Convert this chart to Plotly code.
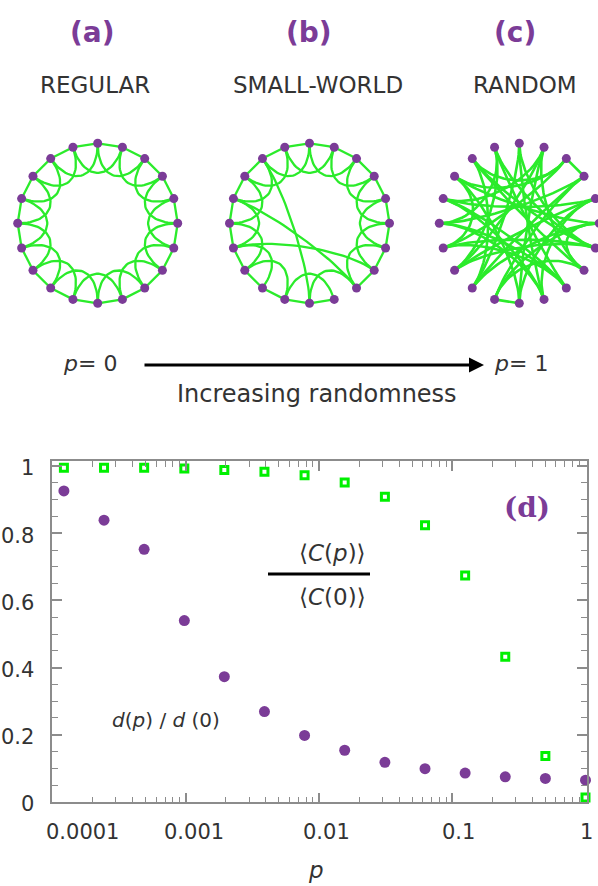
import numpy as np
import plotly.graph_objects as go

W, H = 598, 886
TOP_H = 440  # pixel height of the network strip at the top

# ---------------- rewiring sweep (panel d) ----------------
p_values = [0.000122, 0.000244, 0.000488, 0.000977, 0.00195, 0.0039, 0.0078,
            0.0156, 0.03125, 0.0625, 0.125, 0.25, 0.5, 1.0]
path_length_ratio = [0.926, 0.839, 0.752, 0.540, 0.373, 0.269, 0.198,
                     0.154, 0.118, 0.099, 0.086, 0.075, 0.070, 0.065]
clustering_ratio = [0.995, 0.995, 0.995, 0.993, 0.988, 0.983, 0.973,
                    0.951, 0.909, 0.824, 0.674, 0.432, 0.137, 0.013]

x_tick_vals = [0.0001, 0.001, 0.01, 0.1, 1]
x_tick_text = ["0.0001", "0.001", "0.01", "0.1", "1"]
y_tick_vals = [0, 0.2, 0.4, 0.6, 0.8, 1]
y_tick_text = ["0", "0.2", "0.4", "0.6", "0.8", "1"]

# ---------------- networks (panels a-c) ----------------
n_nodes = 20
regular_edges = [(0, 1), (1, 2), (2, 3), (3, 4), (4, 5), (5, 6), (6, 7), (7, 8), (8, 9), (9, 10),
                 (10, 11), (11, 12), (12, 13), (13, 14), (14, 15), (15, 16), (16, 17), (17, 18),
                 (18, 19), (19, 0),
                 (0, 2), (1, 3), (2, 4), (3, 5), (4, 6), (5, 7), (6, 8), (7, 9), (8, 10), (9, 11),
                 (10, 12), (11, 13), (12, 14), (13, 15), (14, 16), (15, 17), (16, 18), (17, 19),
                 (18, 0), (19, 1)]
small_world_edges = [(0, 1), (1, 2), (2, 3), (3, 4), (4, 5), (5, 6), (6, 7), (7, 8), (8, 16), (9, 10),
                     (10, 11), (11, 12), (12, 13), (13, 14), (14, 15), (15, 16), (16, 17), (17, 18),
                     (18, 19), (19, 0),
                     (0, 2), (1, 3), (2, 4), (3, 5), (4, 6), (5, 7), (6, 8), (7, 14), (8, 10), (9, 11),
                     (10, 18), (11, 13), (12, 14), (13, 15), (14, 16), (15, 17), (16, 18), (17, 19),
                     (18, 0), (19, 1)]
random_edges = [(0, 9), (0, 12), (0, 6), (1, 10), (1, 13), (1, 16), (2, 3), (2, 14), (2, 17), (3, 12),
                (3, 15), (4, 16), (4, 13), (4, 10), (5, 7), (5, 11), (5, 17), (6, 14), (6, 18), (7, 18),
                (7, 11), (8, 16), (8, 19), (8, 14), (15, 19), (9, 15), (10, 11), (3, 11), (5, 12), (6, 13),
                (13, 19), (4, 9), (8, 15), (9, 16), (14, 17), (12, 18), (2, 18), (6, 19), (1, 7), (10, 17)]
panel_tags = ["(a)", "(b)", "(c)"]
panel_names = ["REGULAR", "SMALL-WORLD", "RANDOM"]

PURPLE = "#7B3C97"
GREEN_EDGE = "#2BEB2B"
GREEN_MARK = "#00F000"
AXIS_GREY = "#8C8C8C"
TEXT = "#333333"

centers = [(97.7, 223.3), (309.5, 223.3), (519.3, 223.3)]
R = 80.0


def node_xy(cx, cy, k):
    th = 2 * np.pi * k / n_nodes
    return np.array([cx + R * np.sin(th), cy - R * np.cos(th)])


def edge_curve(cx, cy, i, j, pull=0.45):
    d = (j - i) % n_nodes
    if min(d, n_nodes - d) == 1:
        pull = 0.0
    p0, p3 = node_xy(cx, cy, i), node_xy(cx, cy, j)
    c = np.array([cx, cy])
    c1 = p0 + pull * (c - p0)
    c2 = p3 + pull * (c - p3)
    t = np.linspace(0, 1, 32)[:, None]
    b = (1 - t) ** 3 * p0 + 3 * (1 - t) ** 2 * t * c1 + 3 * (1 - t) * t ** 2 * c2 + t ** 3 * p3
    return b[:, 0], b[:, 1]


fig = go.Figure()

for (cx, cy), edges, lw in zip(centers, [regular_edges, small_world_edges, random_edges], [2.3, 2.3, 2.6]):
    ex, ey = [], []
    for i, j in edges:
        xs, ys = edge_curve(cx, cy, i, j)
        ex += list(xs) + [None]
        ey += list(ys) + [None]
    fig.add_trace(go.Scatter(x=ex, y=ey, mode="lines", xaxis="x2", yaxis="y2",
                             line=dict(color=GREEN_EDGE, width=lw), hoverinfo="skip",
                             showlegend=False))
    nodes = np.array([node_xy(cx, cy, k) for k in range(n_nodes)])
    fig.add_trace(go.Scatter(x=nodes[:, 0], y=nodes[:, 1], mode="markers", xaxis="x2", yaxis="y2",
                             marker=dict(color=PURPLE, size=9), showlegend=False))

# ---------------- panel d scatter ----------------
fig.add_trace(go.Scatter(x=p_values, y=path_length_ratio, mode="markers", cliponaxis=False,
                         marker=dict(color=PURPLE, size=11), showlegend=False))
fig.add_trace(go.Scatter(x=p_values, y=clustering_ratio, mode="markers", cliponaxis=False,
                         marker=dict(symbol="square-open", color=GREEN_MARK, size=7,
                                     line=dict(color=GREEN_MARK, width=3)),
                         showlegend=False))

x_minor = [m * 10.0 ** e for e in range(-4, 0) for m in range(2, 10)]
y_minor = [0.05, 0.1, 0.15, 0.25, 0.3, 0.35, 0.45, 0.5, 0.55, 0.65, 0.7, 0.75, 0.85, 0.9, 0.95]


def P(x, y):
    return x / W, 1 - y / H


tickfont = dict(family="DejaVu Sans", size=21, color=TEXT)

ann = []
tag_x = [92, 309, 515]
name_x = [94.5, 317.5, 524.5]
for tx, nx, tag, name in zip(tag_x, name_x, panel_tags, panel_names):
    x, y = P(tx, 32)
    ann.append(dict(x=x, y=y, text=f"<b>{tag}</b>",
                    font=dict(family="DejaVu Sans", size=28, color=PURPLE)))
    x, y = P(nx, 85)
    ann.append(dict(x=x, y=y, text=name, font=dict(family="DejaVu Sans", size=23, color=TEXT)))

x, y = P(90, 363)
ann.append(dict(x=x, y=y, text="<i>p</i>= 0", font=dict(family="DejaVu Sans", size=22, color=TEXT)))
x, y = P(521, 363)
ann.append(dict(x=x, y=y, text="<i>p</i>= 1", font=dict(family="DejaVu Sans", size=22, color=TEXT)))
x, y = P(317, 394)
ann.append(dict(x=x, y=y, text="Increasing randomness",
                font=dict(family="DejaVu Sans", size=24, color=TEXT)))
# arrow p=0 -> p=1
hx, hy = P(484, 365)
ann.append(dict(x=hx, y=hy, ax=-341, ay=0, axref="pixel", ayref="pixel", text="",
                showarrow=True, arrowhead=2, arrowsize=1.0, arrowwidth=3, arrowcolor="black"))

x, y = P(527, 507)
ann.append(dict(x=x, y=y, text="<b>(d)</b>", font=dict(family="DejaVu Serif", size=28, color=PURPLE)))
x, y = P(332, 553)
ann.append(dict(x=x, y=y, text="⟨<i>C</i>(<i>p</i>)⟩", font=dict(family="DejaVu Sans", size=23, color=TEXT)))
x, y = P(332, 597)
ann.append(dict(x=x, y=y, text="⟨<i>C</i>(0)⟩", font=dict(family="DejaVu Sans", size=23, color=TEXT)))
x, y = P(110, 720)
ann.append(dict(x=x, y=y, text="<i>d</i>(<i>p</i>) / <i>d</i> (0)", xanchor="left",
                font=dict(family="DejaVu Sans", size=20, color=TEXT)))
x, y = P(316, 870)
ann.append(dict(x=x, y=y, text="<i>p</i>", font=dict(family="DejaVu Sans", size=23, color=TEXT)))

# x tick labels sit a little to the right of their ticks; the first one is kept inside the frame
label_nudge = [30, 8, 8, 6, 1]
_, ly = P(0, 832)
for v, txt, dx in zip(x_tick_vals, x_tick_text, label_nudge):
    ann.append(dict(x=np.log10(v), xref="x", y=ly, text=txt, xshift=dx, font=tickfont))

for a in ann:
    a.setdefault("xref", "paper")
    a.setdefault("yref", "paper")
    a.setdefault("showarrow", False)
    a.setdefault("xanchor", "center")
    a.setdefault("yanchor", "middle")

bx0, by = P(268, 574)
bx1, _ = P(370, 574)
shapes = [dict(type="line", xref="paper", yref="paper", x0=bx0, x1=bx1, y0=by, y1=by,
               line=dict(color="black", width=3))]

fig.update_layout(
    template="none",
    width=W, height=H, autosize=False,
    margin=dict(l=0, r=0, t=0, b=0),
    paper_bgcolor="white", plot_bgcolor="white",
    annotations=ann, shapes=shapes,
    xaxis=dict(type="log", domain=[52.4 / W, 586.5 / W], anchor="y", automargin=False,
               range=[-4, 0.0075], tickmode="array", tickvals=x_tick_vals, ticktext=x_tick_text,
               showticklabels=False,
               ticks="inside", ticklen=10, tickwidth=1.5, tickcolor=AXIS_GREY,
               showline=True, linecolor=AXIS_GREY, linewidth=1.6, mirror="allticks",
               showgrid=False, zeroline=False,
               minor=dict(tickmode="array", tickvals=x_minor, ticks="inside", ticklen=6,
                          tickwidth=1.3, tickcolor=AXIS_GREY, showgrid=False)),
    yaxis=dict(domain=[(H - 802.3) / H, (H - 460.7) / H], anchor="x", automargin=False,
               range=[-0.001, 1.016], tickmode="array", tickvals=y_tick_vals, ticktext=y_tick_text,
               ticks="inside", ticklen=10, tickwidth=1.5, tickcolor=AXIS_GREY,
               showline=True, linecolor=AXIS_GREY, linewidth=1.6, mirror="allticks",
               showgrid=False, zeroline=False, tickfont=tickfont, ticklabelstandoff=12,
               ticklabelshift=2,
               minor=dict(tickmode="array", tickvals=y_minor, ticks="inside", ticklen=6,
                          tickwidth=1.3, tickcolor=AXIS_GREY, showgrid=False)),
    xaxis2=dict(domain=[0, 1], range=[0, W], visible=False, anchor="y2", fixedrange=True,
                automargin=False),
    yaxis2=dict(domain=[1 - TOP_H / H, 1], range=[TOP_H, 0], visible=False, anchor="x2",
                fixedrange=True, automargin=False),
)

fig.write_html("out.html")
